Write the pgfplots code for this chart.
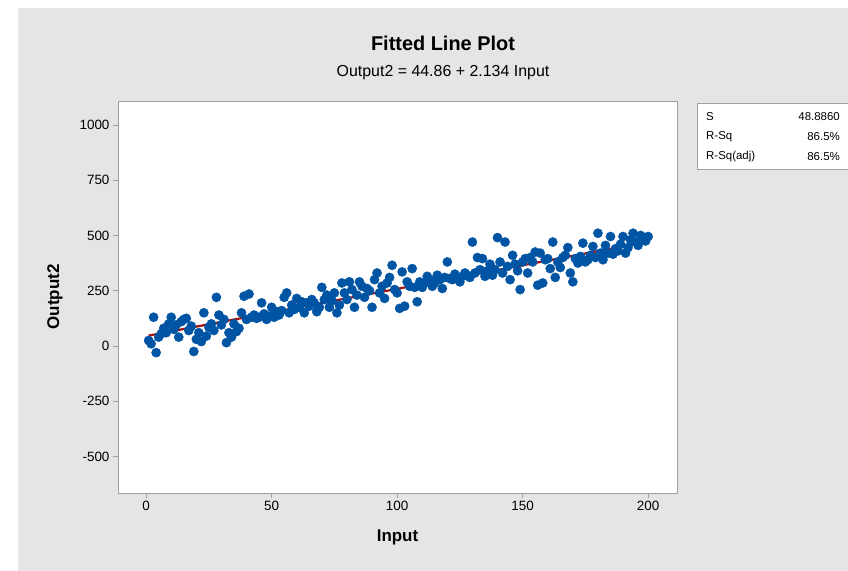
\documentclass[border=0pt]{standalone}
\usepackage{pgfplots}
\pgfplotsset{compat=1.18}
\usepackage{pgfplotstable}
\usepackage{fontspec}
\setmainfont{Liberation Sans}
\definecolor{panelgray}{RGB}{229,229,229}
\definecolor{ptblue}{RGB}{0,84,164}
\definecolor{fitred}{RGB}{160,20,20}
\definecolor{framegray}{RGB}{160,160,160}

% Observed Input / Output2 pairs
\pgfplotstableread{
x y
1 25
2 10
3 130
4 -30
5 40
6 55
7 80
8 60
9 100
10 130
11 75
12 95
13 40
14 110
15 120
16 125
17 70
18 90
19 -25
20 30
21 60
22 20
23 150
24 45
25 85
26 100
27 70
28 220
29 140
30 95
31 120
32 15
33 60
34 40
35 100
36 65
37 80
38 150
39 225
40 120
41 235
42 130
43 140
44 125
45 130
46 195
47 145
48 120
49 135
50 175
51 130
52 155
53 140
54 160
55 220
56 240
57 150
58 185
59 165
60 215
61 175
62 200
63 150
64 195
65 180
66 210
67 195
68 155
69 175
70 265
71 210
72 230
73 175
74 205
75 240
76 150
77 185
78 285
79 240
80 210
81 290
82 255
83 175
84 230
85 290
86 270
87 220
88 260
89 250
90 175
91 300
92 330
93 240
94 270
95 215
96 285
97 310
98 365
99 255
100 240
101 170
102 335
103 180
104 290
105 270
106 350
107 265
108 200
109 290
110 265
111 285
112 315
113 300
114 270
115 285
116 320
117 300
118 260
119 310
120 380
121 305
122 300
123 325
124 310
125 290
126 315
127 330
128 320
129 310
130 470
131 330
132 400
133 345
134 395
135 315
136 340
137 370
138 320
139 345
140 490
141 380
142 330
143 470
144 360
145 300
146 410
147 370
148 340
149 255
150 380
151 395
152 330
153 400
154 380
155 425
156 275
157 420
158 285
159 390
160 395
161 350
162 470
163 310
164 380
165 355
166 400
167 410
168 445
169 330
170 290
171 395
172 375
173 405
174 465
175 380
176 390
177 410
178 450
179 400
180 510
181 420
182 390
183 455
184 420
185 495
186 415
187 440
188 430
189 460
190 495
191 420
192 445
193 480
194 510
195 470
196 455
197 500
198 490
199 475
200 495
}\obsdata

\begin{document}
\begin{tikzpicture}
\path[use as bounding box] (0bp,0bp) rectangle (848bp,571bp);
\fill[panelgray] (18bp,0bp) rectangle (848bp,563bp);

\node[font=\bfseries\fontsize{20}{24}\selectfont] at (443bp,528bp) {Fitted Line Plot};
\node[font=\fontsize{16}{19}\selectfont] at (443bp,498bp) {Output2 = 44.86 + 2.134 Input};

\begin{axis}[
  at={(118bp,78bp)}, anchor=south west,
  scale only axis, width=559bp, height=392bp,
  xmin=-11.2, xmax=211.5, ymin=-665, ymax=1108,
  xtick={0,50,100,150,200},
  ytick={-500,-250,0,250,500,750,1000},
  xtick pos=left, ytick pos=left,
  tick align=outside, major tick length=5bp,
  axis line style={framegray},
  tick style={framegray, line width=0.6pt},
  axis background/.style={fill=white},
  /pgf/number format/assume math mode=true,
  /pgf/number format/1000 sep={},
  tick label style={font=\fontsize{13.5}{16}\selectfont},
  xlabel={Input}, ylabel={Output2},
  label style={font=\bfseries\fontsize{17}{20}\selectfont},
  xlabel style={at={(axis description cs:0.5,-0.1122)}, anchor=center},
  ylabel style={at={(axis description cs:-0.1127,0.5)}, anchor=center},
  clip=false,
]
\addplot[only marks, mark=*, mark size=4.6bp, mark options={fill=ptblue, draw=ptblue}]
  table[x=x, y=y] {\obsdata};
% fitted regression line: Output2 = 44.86 + 2.134 Input
\addplot[fitred, line width=2.2pt] coordinates {(1,46.99) (200,471.66)};
\end{axis}

% summary statistics box
\draw[framegray, fill=white] (697bp,402bp) rectangle (860bp,468bp);
\begin{scope}[every node/.style={font=\fontsize{11.5}{13}\selectfont, inner sep=0pt}]
\node[anchor=west] at (706bp,454bp) {S};
\node[anchor=west] at (706bp,434bp) {R-Sq};
\node[anchor=west] at (706bp,414bp) {R-Sq(adj)};
\node[anchor=east] at (840bp,454bp) {48.8860};
\node[anchor=east] at (840bp,434bp) {86.5\%};
\node[anchor=east] at (840bp,414bp) {86.5\%};
\end{scope}
\end{tikzpicture}
\end{document}
